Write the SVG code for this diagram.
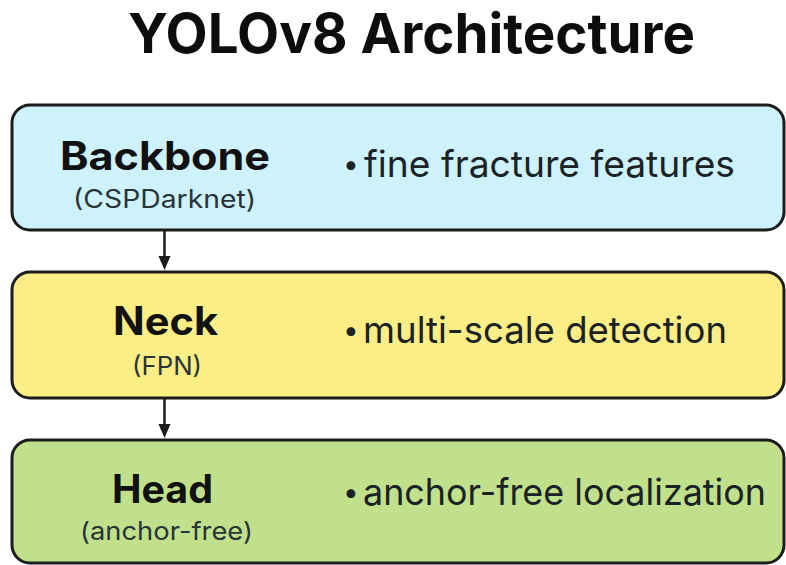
<svg xmlns="http://www.w3.org/2000/svg" width="786" height="565" viewBox="0 0 786 565">
  <defs>
    <style>
      .box { stroke: #1c1c1c; stroke-width: 3; }
      .title { font-family: Inter, "Liberation Sans", sans-serif; font-weight: 700; font-size: 55px; fill: #0d0d0d; }
      .name { font-family: Inter, "Liberation Sans", sans-serif; font-weight: 700; font-size: 39px; fill: #111; }
      .sub { font-family: Inter, "Liberation Sans", sans-serif; font-size: 25px; fill: #2a3438; }
      .note { font-family: Inter, "Liberation Sans", sans-serif; font-size: 37px; fill: #1a2226; }
      .dot { font-family: Inter, "Liberation Sans", sans-serif; font-size: 28px; fill: #1a2226; }
      .link { stroke: #1c1c1c; stroke-width: 2.5; fill: none; }
      .head { fill: #1c1c1c; }
    </style>
  </defs>
  <rect width="786" height="565" fill="#ffffff"/>

  <text class="title" x="128" y="53" textLength="567" lengthAdjust="spacingAndGlyphs">YOLOv8 Architecture</text>

  <g id="backbone">
    <rect class="box" x="12" y="105" width="772" height="125" rx="18" fill="#cdf2fb"/>
    <text class="name" x="60" y="170" textLength="210" lengthAdjust="spacingAndGlyphs">Backbone</text>
    <text class="sub" x="73" y="208" textLength="183" lengthAdjust="spacingAndGlyphs">(CSPDarknet)</text>
    <text class="dot" x="343" y="174">•</text>
    <text class="note" x="364" y="177" textLength="371" lengthAdjust="spacingAndGlyphs">fine fracture features</text>
  </g>

  <g id="neck">
    <rect class="box" x="12" y="272" width="772" height="126" rx="18" fill="#fcee86"/>
    <text class="name" x="113" y="335" textLength="105" lengthAdjust="spacingAndGlyphs">Neck</text>
    <text class="sub" x="132" y="375" textLength="70" lengthAdjust="spacingAndGlyphs">(FPN)</text>
    <text class="dot" x="343" y="340">•</text>
    <text class="note" x="363" y="343" textLength="364" lengthAdjust="spacingAndGlyphs">multi-scale detection</text>
  </g>

  <g id="head">
    <rect class="box" x="12" y="440" width="772" height="123" rx="18" fill="#c0e08b"/>
    <text class="name" x="112" y="503" textLength="101" lengthAdjust="spacingAndGlyphs">Head</text>
    <text class="sub" x="80" y="540" textLength="173" lengthAdjust="spacingAndGlyphs">(anchor-free)</text>
    <text class="dot" x="343" y="502">•</text>
    <text class="note" x="363" y="505" textLength="403" lengthAdjust="spacingAndGlyphs">anchor-free localization</text>
  </g>

  <g id="connectors">
    <line class="link" x1="164.5" y1="231" x2="164.5" y2="258"/>
    <polygon class="head" points="158.5,256 170.5,256 164.5,270"/>
    <line class="link" x1="164.5" y1="399" x2="164.5" y2="426"/>
    <polygon class="head" points="158.5,424 170.5,424 164.5,438"/>
  </g>
</svg>
